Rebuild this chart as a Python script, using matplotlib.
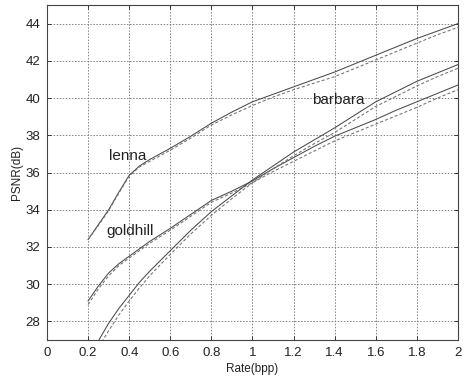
import matplotlib
matplotlib.use("Agg")
import matplotlib.pyplot as plt
import numpy as np

plt.rcParams["font.family"] = ["Liberation Sans", "DejaVu Sans"]

# rate axis (bpp)
rate = [0.2, 0.25, 0.3, 0.35, 0.4, 0.45, 0.5, 0.6, 0.7, 0.8, 0.9, 1.0,
        1.1, 1.2, 1.3, 1.4, 1.5, 1.6, 1.7, 1.8, 1.9, 2.0]

# PSNR (dB), solid = proposed, dashed = reference
lenna_solid = [32.4, 33.2, 34.0, 34.95, 35.85, 36.35, 36.7, 37.3, 37.95, 38.65, 39.25, 39.8,
               40.2, 40.6, 41.0, 41.4, 41.85, 42.3, 42.75, 43.2, 43.6, 44.0]
lenna_dash = [32.4, 33.15, 33.95, 34.9, 35.8, 36.3, 36.6, 37.2, 37.85, 38.55, 39.1, 39.6,
              40.05, 40.45, 40.8, 41.15, 41.6, 42.05, 42.5, 42.95, 43.4, 43.8]

goldhill_solid = [29.1, 29.9, 30.6, 31.1, 31.5, 31.9, 32.3, 33.0, 33.75, 34.5, 35.0, 35.55,
                  36.2, 36.8, 37.4, 37.95, 38.4, 38.85, 39.35, 39.8, 40.25, 40.7]
goldhill_dash = [28.9, 29.75, 30.45, 31.0, 31.4, 31.8, 32.2, 32.9, 33.65, 34.4, 34.9, 35.45,
                 36.05, 36.6, 37.15, 37.7, 38.15, 38.6, 39.05, 39.5, 40.0, 40.45]

barbara_solid = [26.0, 26.95, 27.9, 28.7, 29.4, 30.1, 30.7, 31.8, 32.9, 33.9, 34.75, 35.6,
                 36.35, 37.1, 37.75, 38.4, 39.1, 39.8, 40.35, 40.9, 41.35, 41.8]
barbara_dash = [25.7, 26.6, 27.5, 28.35, 29.1, 29.8, 30.45, 31.6, 32.7, 33.7, 34.6, 35.45,
                36.2, 36.9, 37.55, 38.15, 38.85, 39.55, 40.1, 40.65, 41.15, 41.6]

labels = ["lenna", "goldhill", "barbara"]
label_xy = [(0.30, 36.9), (0.29, 32.85), (1.29, 39.9)]

fig = plt.figure(figsize=(4.69, 3.78), dpi=100)
ax = fig.add_axes([0.1002, 0.1005, 0.8763, 0.8863])

for solid, dash in [(lenna_solid, lenna_dash), (goldhill_solid, goldhill_dash),
                    (barbara_solid, barbara_dash)]:
    ax.plot(rate, solid, "-", color="#4a4a4a", lw=0.75)
    ax.plot(rate, dash, "--", color="#707070", lw=0.75, dashes=(3, 2))

for txt, (x, y) in zip(labels, label_xy):
    ax.text(x, y, txt, fontsize=11, color="#222222", ha="left", va="center")

ax.set_xlim(0, 2)
ax.set_ylim(27, 45)
ax.set_xticks(np.arange(0, 2.01, 0.2))
ax.set_xticklabels(["0", "0.2", "0.4", "0.6", "0.8", "1", "1.2", "1.4", "1.6", "1.8", "2"])
ax.set_yticks(np.arange(28, 45, 2))
ax.tick_params(direction="in", length=3, width=0.6, top=True, right=True,
               labelsize=9.5, colors="#222222", pad=5)
ax.grid(True, color="#666666", lw=0.55, linestyle=(0, (2, 2)))
for s in ax.spines.values():
    s.set_linewidth(0.8)
    s.set_color("#444444")

ax.set_xlabel("Rate(bpp)", fontsize=8.5, color="#222222", labelpad=3)
ax.set_ylabel("PSNR(dB)", fontsize=8.5, color="#222222", labelpad=2)

fig.savefig("out.png", dpi=100, facecolor="white")
